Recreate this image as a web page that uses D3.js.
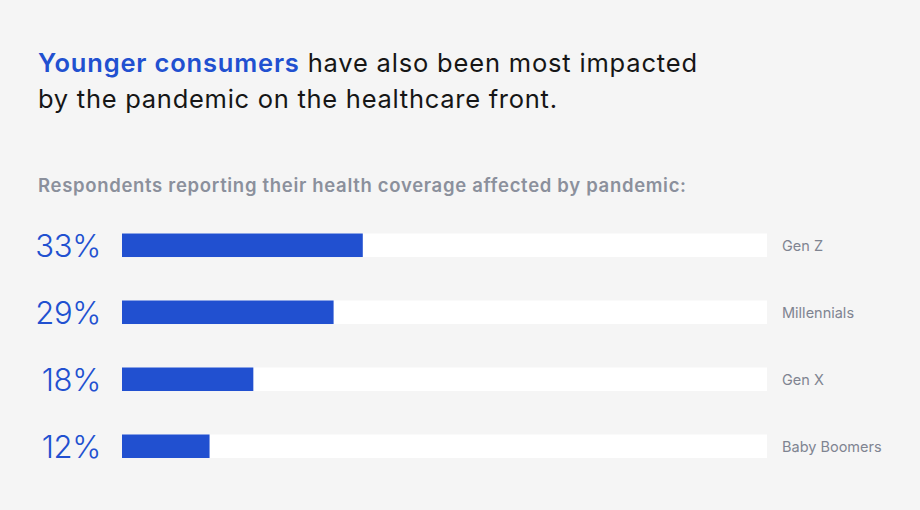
<!DOCTYPE html>
<html><head><meta charset="utf-8">
<script src="https://cdn.jsdelivr.net/npm/d3@7"></script>
<style>
html,body{margin:0;padding:0;background:#f5f5f5;}
svg{display:block;}
</style></head>
<body>
<svg id="chart" width="920" height="510"></svg>
<script>
const categories = ["Gen Z", "Millennials", "Gen X", "Baby Boomers"];
const values = [33, 29, 18, 12];
const valueLabels = ["33%", "29%", "18%", "12%"];
const titleHighlight = "Younger consumers";
const titleRest1 = " have also been most impacted";
const titleLine2 = "by the pandemic on the healthcare front.";
const subtitle = "Respondents reporting their health coverage affected by pandemic:";

const svg = d3.select("#chart");
const W = 920, H = 510;
svg.append("rect").attr("width", W).attr("height", H).attr("fill", "#f5f5f5");

const blue = "#2150d0";
const font = "Inter, Lato, sans-serif";

// stretch text horizontally with letter-spacing to a target width
function fit(sel, target) {
  const node = sel.node();
  const w = node.getComputedTextLength();
  const n = node.textContent.length;
  if (n > 1) sel.attr("letter-spacing", ((target - w) / (n - 1)).toFixed(3));
}

const title = svg.append("text").attr("x", 38).attr("y", 71.5)
  .attr("font-family", font).attr("font-size", 25.5).attr("fill", "#161616");
title.append("tspan").attr("fill", blue).attr("font-weight", 600).text(titleHighlight);
title.append("tspan").attr("font-weight", 400).text(titleRest1);
fit(title, 659);
const t2 = svg.append("text").attr("x", 38).attr("y", 107.5)
  .attr("font-family", font).attr("font-size", 25.5).attr("fill", "#161616").text(titleLine2);
fit(t2, 519);

const sub = svg.append("text").attr("x", 38).attr("y", 192)
  .attr("font-family", font).attr("font-size", 18.5).attr("font-weight", 600)
  .attr("fill", "#8b909c").text(subtitle);
fit(sub, 648);

const x = d3.scaleLinear().domain([0, 88.4]).range([122, 767]);
const y = d3.scaleBand().domain(categories).range([233.5, 458]).paddingInner(0.649).paddingOuter(0);

const g = svg.append("g");
g.selectAll("rect.track").data(categories).join("rect").attr("class", "track")
  .attr("x", x(0)).attr("width", x.range()[1] - x(0))
  .attr("y", d => y(d)).attr("height", y.bandwidth()).attr("fill", "#ffffff");
g.selectAll("rect.bar").data(values).join("rect").attr("class", "bar")
  .attr("x", x(0)).attr("width", d => x(d) - x(0))
  .attr("y", (d, i) => y(categories[i])).attr("height", y.bandwidth()).attr("fill", blue);
g.selectAll("text.val").data(valueLabels).join("text").attr("class", "val")
  .attr("x", 101).attr("y", (d, i) => y(categories[i]) + y.bandwidth() / 2 + 11.5)
  .attr("text-anchor", "end").attr("font-family", font).attr("font-weight", 300)
  .attr("font-size", 31).attr("letter-spacing", -0.3).attr("fill", blue).text(d => d);
g.selectAll("text.cat").data(categories).join("text").attr("class", "cat")
  .attr("x", 782).attr("y", d => y(d) + y.bandwidth() / 2 + 5.5)
  .attr("font-family", font).attr("font-size", 14.5)
  .attr("fill", "#7f8491").text(d => d);
</script>
</body></html>
